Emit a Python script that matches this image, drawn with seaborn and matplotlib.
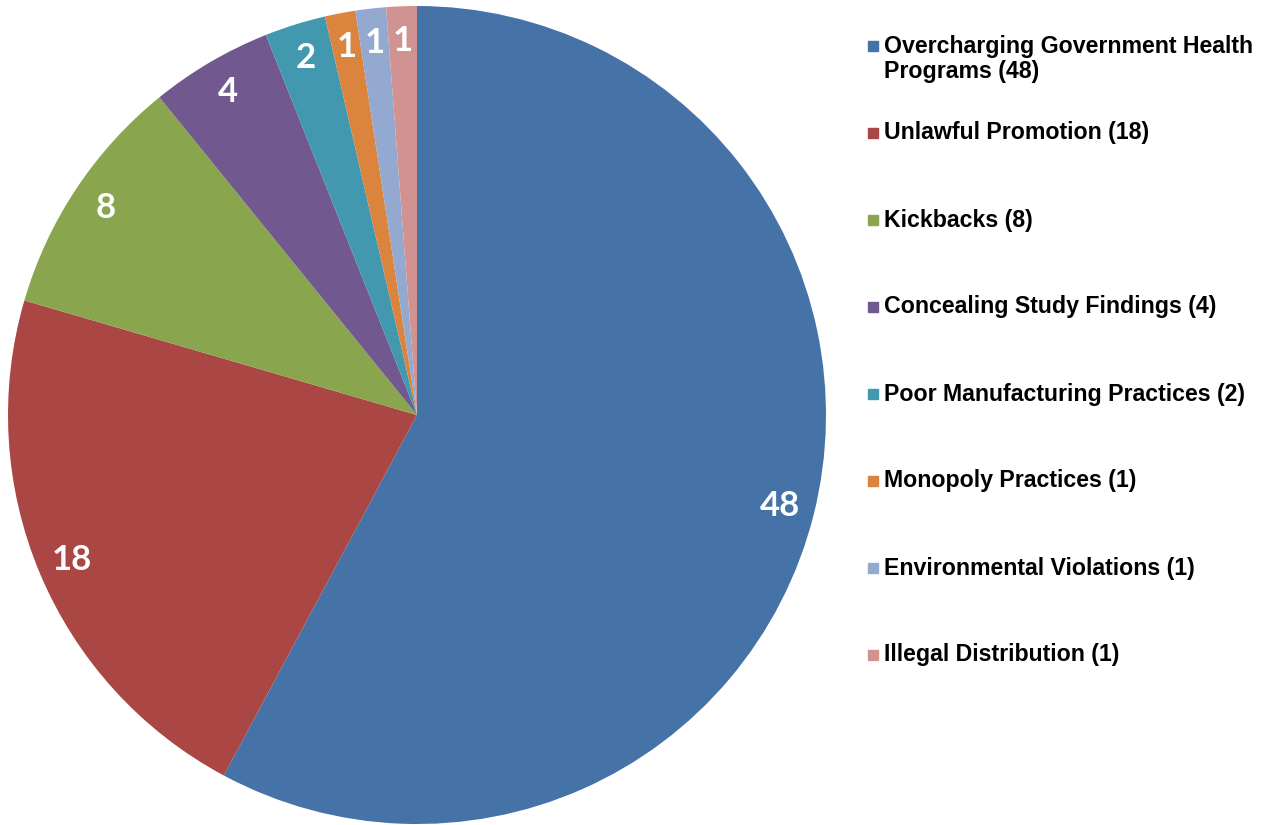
import numpy as np
import pandas as pd
import seaborn as sns
import matplotlib.pyplot as plt
from matplotlib.patches import Rectangle

categories = ['Overcharging Government Health\nPrograms', 'Unlawful Promotion', 'Kickbacks',
              'Concealing Study Findings', 'Poor Manufacturing Practices',
              'Monopoly Practices', 'Environmental Violations', 'Illegal Distribution']
counts = [48, 18, 8, 4, 2, 1, 1, 1]
colors = ['#4572A7', '#AA4643', '#89A54E', '#71588F', '#4198AF', '#DB843D', '#93A9CF', '#D19392']

df = pd.DataFrame({'category': categories, 'count': counts})

sns.set_theme(style='white')
plt.rcParams['font.family'] = ['Liberation Sans', 'DejaVu Sans']

W, H = 1277, 825
fig = plt.figure(figsize=(W / 100, H / 100), dpi=100)

# pie axes: centre (417, 415), radius 409 px
cx, cy, r = 417, 415, 409
ax = fig.add_axes([(cx - r) / W, (H - cy - r) / H, 2 * r / W, 2 * r / H])
wedges, _ = ax.pie(df['count'], colors=sns.color_palette(colors), startangle=90,
                   counterclock=False, radius=1, wedgeprops=dict(linewidth=0))
ax.set_xlim(-1, 1)
ax.set_ylim(-1, 1)
ax.set_aspect('equal')
ax.axis('off')

# value labels inside the slices
for w, v in zip(wedges, df['count']):
    ang = np.deg2rad((w.theta1 + w.theta2) / 2)
    d = 0.915
    ax.text(d * np.cos(ang), d * np.sin(ang), str(v), ha='center', va='center',
            color='white', fontsize=25, fontweight='bold', family=['Lato', 'DejaVu Sans'])

# legend drawn by hand to follow the reference spacing
leg_y = [59, 133, 220, 307, 394, 481, 568, 655]
for i, (lab, v, c) in enumerate(zip(df['category'], df['count'], colors)):
    y = leg_y[i]
    sq_y = 46 if i == 0 else y
    fig.patches.append(Rectangle((868 / W, 1 - (sq_y + 5) / H), 10 / W, 10 / H,
                                 transform=fig.transFigure, color=c, figure=fig))
    fig.text(884 / W, 1 - y / H, f'{lab} ({v})', ha='left', va='center',
             fontsize=16.7, fontweight='bold', color='black', linespacing=1.15)

fig.savefig('out.png', dpi=100, facecolor='white')
